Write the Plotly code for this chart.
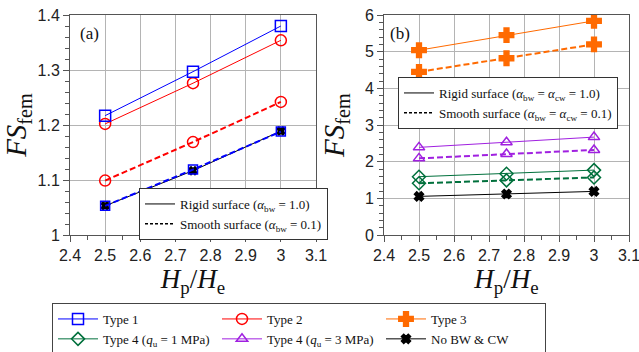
import plotly.graph_objects as go

hp_he = [2.5, 2.75, 3.0]

# Panel (a)
a_type1_rigid = [1.217, 1.297, 1.380]
a_type1_smooth = [1.053, 1.119, 1.188]
a_type2_rigid = [1.202, 1.276, 1.354]
a_type2_smooth = [1.099, 1.169, 1.242]
a_nobw = [1.053, 1.117, 1.189]

# Panel (b)
b_type3_rigid = [5.04, 5.45, 5.84]
b_type3_smooth = [4.45, 4.82, 5.20]
b_type4_3_rigid = [2.39, 2.53, 2.67]
b_type4_3_smooth = [2.09, 2.21, 2.32]
b_type4_1_rigid = [1.59, 1.67, 1.77]
b_type4_1_smooth = [1.41, 1.49, 1.57]
b_nobw = [1.053, 1.117, 1.189]

names = ["Type 1", "Type 2", "Type 3",
         "Type 4 (<i>q</i><sub>u</sub> = 1 MPa)",
         "Type 4 (<i>q</i><sub>u</sub> = 3 MPa)",
         "No BW &amp; CW"]

BLUE = "#0000ff"
RED = "#ff0000"
ORANGE = "#ff6a00"
GREEN = "#00703c"
PURPLE = "#a020e0"
BLACK = "#000000"

SERIF = "Liberation Serif, Times New Roman, serif"
SANS = "Liberation Sans, Arial, sans-serif"

W, H = 639, 352


def fx(px):
    return px / W


def fy(py):
    return 1 - py / H


fig = go.Figure()


def add(y, xa, ya, color, symbol, size, dashed, name, show, rank):
    fig.add_trace(go.Scatter(
        x=hp_he, y=y, xaxis=xa, yaxis=ya, mode="lines+markers",
        line=dict(color=color, width=(2 if dashed else 1),
                  dash=("6px,3px" if dashed else "solid")),
        marker=dict(symbol=symbol, size=size, color=color,
                    line=dict(color=color, width=1.5)),
        name=name, showlegend=show, legendrank=rank, legend="legend"))


# panel a
add(a_nobw, "x", "y", BLACK, "x", 7, False, names[5], False, 6)
add(a_type1_smooth, "x", "y", BLUE, "square-open", 9, True, names[0], False, 1)
add(a_type2_smooth, "x", "y", RED, "circle-open", 11, True, names[1], False, 2)
add(a_type2_rigid, "x", "y", RED, "circle-open", 11, False, names[1], True, 2)
add(a_type1_rigid, "x", "y", BLUE, "square-open", 11, False, names[0], True, 1)

# panel b
add(b_nobw, "x2", "y2", BLACK, "x", 8, False, names[5], True, 6)
add(b_type4_1_smooth, "x2", "y2", GREEN, "diamond-open", 10, True, names[3], False, 4)
add(b_type4_1_rigid, "x2", "y2", GREEN, "diamond-open", 10, False, names[3], True, 4)
add(b_type4_3_smooth, "x2", "y2", PURPLE, "triangle-up-open", 10, True, names[4], False, 5)
add(b_type4_3_rigid, "x2", "y2", PURPLE, "triangle-up-open", 10, False, names[4], True, 5)
add(b_type3_smooth, "x2", "y2", ORANGE, "cross", 12, True, names[2], False, 3)
add(b_type3_rigid, "x2", "y2", ORANGE, "cross", 12, False, names[2], True, 3)

# surface legends (line style keys)
for leg, sub in (("legend2", "<i>α</i><sub>bw</sub>"),
                 ("legend3", "<i>α</i><sub>bw</sub> = <i>α</i><sub>cw</sub>")):
    fig.add_trace(go.Scatter(x=[None], y=[None], mode="lines",
                             line=dict(color=BLACK, width=1),
                             name=f"Rigid surface ({sub} = 1.0)", legend=leg, showlegend=True))
    fig.add_trace(go.Scatter(x=[None], y=[None], mode="lines",
                             line=dict(color=BLACK, width=1.5, dash="3px,2px"),
                             name=f"Smooth surface ({sub} = 0.1)", legend=leg, showlegend=True))

axis_common = dict(
    showgrid=True, gridcolor="#b4b4b4", gridwidth=1,
    showline=True, linecolor="#555555", linewidth=1, mirror=True,
    ticks="outside", ticklen=6, tickcolor="#555555",
    tickfont=dict(family=SANS, size=16, color="#222222"),
    ticklabeloverflow="allow",
    zeroline=False,
)
xtitle = dict(text="<i>H</i><sub>p</sub>/<i>H</i><sub>e</sub>",
              font=dict(family=SERIF, size=27, color="#111111"), standoff=0)


def ytitle(standoff):
    return dict(text="<i>FS</i><sub>fem</sub>",
                font=dict(family=SERIF, size=29, color="#111111"), standoff=standoff)


ydom = [fy(235), fy(15)]
fig.update_layout(
    width=W, height=H, margin=dict(l=0, r=0, t=0, b=0, autoexpand=False),
    paper_bgcolor="white", plot_bgcolor="white",
    font=dict(family=SERIF, color="#111111"),
    xaxis=dict(domain=[fx(70), fx(316)], range=[2.4, 3.1], dtick=0.1,
               minor=dict(dtick=0.05, ticks="outside", ticklen=4, tickcolor="#555555", showgrid=False),
               title=xtitle, anchor="y", **axis_common),
    yaxis=dict(domain=ydom, range=[1.0, 1.4], dtick=0.1, tickformat="~g",
               minor=dict(dtick=0.02, ticks="outside", ticklen=4, tickcolor="#555555", showgrid=False),
               title=ytitle(2), anchor="x", **axis_common),
    xaxis2=dict(domain=[fx(384), fx(629)], range=[2.4, 3.1], dtick=0.1,
                minor=dict(dtick=0.05, ticks="outside", ticklen=4, tickcolor="#555555", showgrid=False),
                title=xtitle, anchor="y2", **axis_common),
    yaxis2=dict(domain=ydom, range=[0, 6], dtick=1,
                minor=dict(dtick=0.2, ticks="outside", ticklen=4, tickcolor="#555555", showgrid=False),
                title=ytitle(11), anchor="x2", **axis_common),
    legend=dict(orientation="h", x=fx(52), y=fy(303), xanchor="left", yanchor="top",
                entrywidth=109, entrywidthmode="pixels", itemwidth=40,
                font=dict(family=SERIF, size=13, color="#111111"),
                bordercolor="#444444", borderwidth=1, bgcolor="white",
                traceorder="normal", tracegroupgap=0),
    legend2=dict(x=fx(139), y=fy(214), xanchor="left", yanchor="middle",
                 font=dict(family=SERIF, size=13, color="#111111"),
                 bordercolor="#333333", borderwidth=1, bgcolor="white",
                 itemwidth=30, tracegroupgap=0),
    legend3=dict(x=fx(398), y=fy(103), xanchor="left", yanchor="middle",
                 font=dict(family=SERIF, size=13, color="#111111"),
                 bordercolor="#333333", borderwidth=1, bgcolor="white",
                 itemwidth=30, tracegroupgap=0),
    annotations=[
        dict(text="(a)", x=fx(78), y=fy(33), xref="paper", yref="paper",
             xanchor="left", yanchor="middle", showarrow=False,
             font=dict(family=SERIF, size=17, color="#111111")),
        dict(text="(b)", x=fx(388), y=fy(33), xref="paper", yref="paper",
             xanchor="left", yanchor="middle", showarrow=False,
             font=dict(family=SERIF, size=17, color="#111111")),
    ],
)

fig.write_html("out.html", config={"displayModeBar": False},
               post_script="document.body.style.margin='0';")
